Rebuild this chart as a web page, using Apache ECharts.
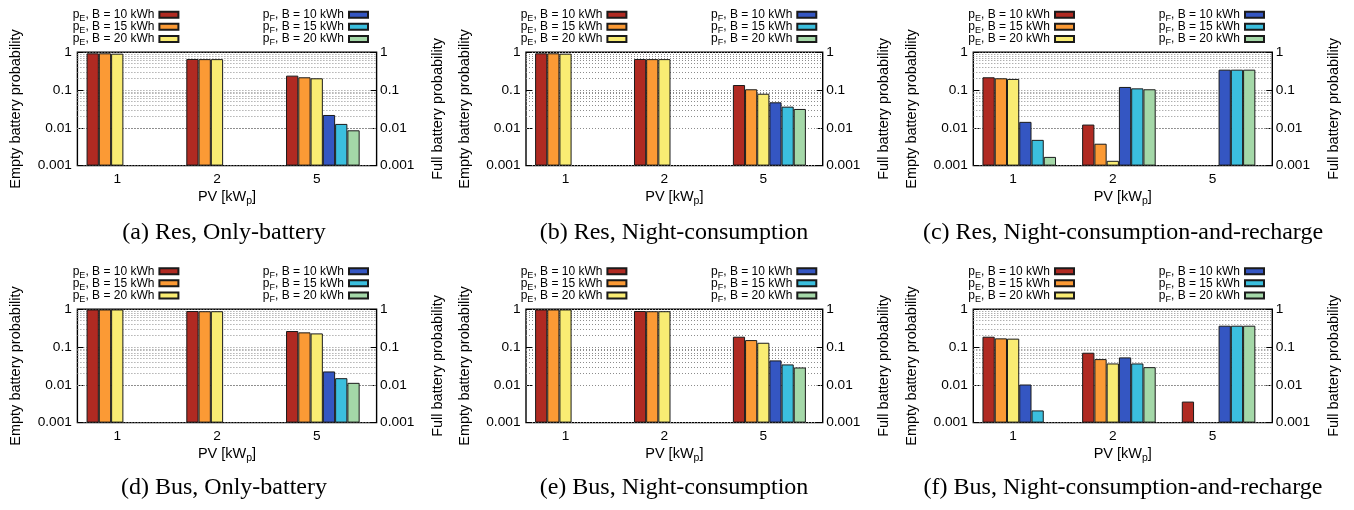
<!DOCTYPE html>
<html><head><meta charset="utf-8">
<script src="https://cdn.jsdelivr.net/npm/echarts@6/dist/echarts.min.js"></script>
<style>html,body{margin:0;padding:0;background:#fff}#c{width:1354px;height:510px}</style>
</head><body><div id="c"></div>
<script>
// ---------- data ----------
const categories = ['1', '2', '5'];
const yTickLabels = ['0.001', '0.01', '0.1', '1'];
const minorGridValues = [0.002, 0.003, 0.004, 0.005, 0.006, 0.007, 0.008, 0.009,
                         0.02, 0.03, 0.04, 0.05, 0.06, 0.07, 0.08, 0.09,
                         0.2, 0.3, 0.4, 0.5, 0.6, 0.7, 0.8, 0.9];
const seriesNames = ['p_E, B = 10 kWh', 'p_E, B = 15 kWh', 'p_E, B = 20 kWh',
                     'p_F, B = 10 kWh', 'p_F, B = 15 kWh', 'p_F, B = 20 kWh'];
const captions = ['(a) Res, Only-battery', '(b) Res, Night-consumption', '(c) Res, Night-consumption-and-recharge',
                  '(d) Bus, Only-battery', '(e) Bus, Night-consumption', '(f) Bus, Night-consumption-and-recharge'];
const xAxisName = 'PV [kW_p]';
const yLeftName = 'Empty battery probability';
const yRightName = 'Full battery probability';

// (a) Res, Only-battery
const a_pE10 = [0.94, 0.665, 0.241];
const a_pE15 = [0.94, 0.66, 0.218];
const a_pE20 = [0.92, 0.66, 0.205];
const a_pF10 = [null, null, 0.0219];
const a_pF15 = [null, null, 0.0127];
const a_pF20 = [null, null, 0.0086];
// (b) Res, Night-consumption
const b_pE10 = [0.94, 0.665, 0.136];
const b_pE15 = [0.94, 0.66, 0.105];
const b_pE20 = [0.92, 0.66, 0.080];
const b_pF10 = [null, null, 0.0474];
const b_pF15 = [null, null, 0.0364];
const b_pF20 = [null, null, 0.0316];
// (c) Res, Night-consumption-and-recharge
const c_pE10 = [0.218, 0.0122, null];
const c_pE15 = [0.205, 0.0038, null];
const c_pE20 = [0.197, 0.00134, null];
const c_pF10 = [0.0144, 0.121, 0.347];
const c_pF15 = [0.0048, 0.111, 0.347];
const c_pF20 = [0.0017, 0.105, 0.347];
// (d) Bus, Only-battery
const d_pE10 = [0.99, 0.90, 0.266];
const d_pE15 = [0.99, 0.89, 0.245];
const d_pE20 = [0.99, 0.89, 0.230];
const d_pF10 = [null, null, 0.0226];
const d_pF15 = [null, null, 0.0150];
const d_pF20 = [null, null, 0.0113];
// (e) Bus, Night-consumption
const e_pE10 = [0.99, 0.90, 0.188];
const e_pE15 = [0.99, 0.89, 0.153];
const e_pE20 = [0.99, 0.89, 0.130];
const e_pF10 = [null, null, 0.0443];
const e_pF15 = [null, null, 0.0347];
const e_pF20 = [null, null, 0.0288];
// (f) Bus, Night-consumption-and-recharge
const f_pE10 = [0.188, 0.0708, 0.0036];
const f_pE15 = [0.170, 0.048, null];
const f_pE20 = [0.167, 0.0368, null];
const f_pF10 = [0.0102, 0.0532, 0.368];
const f_pF15 = [0.0021, 0.0368, 0.368];
const f_pF20 = [null, 0.0294, 0.368];

const panelData = [
  [a_pE10, a_pE15, a_pE20, a_pF10, a_pF15, a_pF20],
  [b_pE10, b_pE15, b_pE20, b_pF10, b_pF15, b_pF20],
  [c_pE10, c_pE15, c_pE20, c_pF10, c_pF15, c_pF20],
  [d_pE10, d_pE15, d_pE20, d_pF10, d_pF15, d_pF20],
  [e_pE10, e_pE15, e_pE20, e_pF10, e_pF15, e_pF20],
  [f_pE10, f_pE15, f_pE20, f_pF10, f_pF15, f_pF20]
];

// ---------- style / layout ----------
const colors = ['#b02a22', '#fb9a35', '#f9ec73', '#3456c2', '#3bbfde', '#a4d8a8'];
const SANS = 'Liberation Sans, Arial, Helvetica, sans-serif';
const SERIF = 'Liberation Serif, Times New Roman, serif';
const colLeft = [77.4, 526, 973.3];
const colWidth = [299.2, 296.7, 299];
const rowTop = [52.3, 309.3];
const plotH = 113.3;
const legendLeft = [72.7, 520.7, 968.3];
const legendRightEdge = [369, 817.3, 1265];
const legendTop = [6.2, 262.7];
const capCenter = [224, 674, 1123];
const capTop = [220.5, 475.5];
const W = 1354;

function subRich(str) {
  return str.replace(/^(.*?)_(\w)(.*)$/, '{n|$1}{s|$2}{n|$3}');
}
const legendRich = {
  n: { fontFamily: SANS, fontSize: 12, lineHeight: 11.8, color: '#000' },
  s: { fontFamily: SANS, fontSize: 9, lineHeight: 11.8, color: '#000', padding: [8, 0, 0, 0] }
};

const grid = [], xAxis = [], yAxis = [], series = [], legend = [], title = [];
for (let i = 0; i < 6; i++) {
  const col = i % 3, row = Math.floor(i / 3);
  grid.push({ left: colLeft[col], top: rowTop[row], width: colWidth[col], height: plotH,
              show: true, borderColor: '#000', borderWidth: 1.4, backgroundColor: 'transparent', containLabel: false });
  xAxis.push({
    type: 'category', gridIndex: i, data: categories,
    axisLine: { show: false }, axisTick: { show: false },
    axisLabel: { fontFamily: SANS, fontSize: 13.7, color: '#000', margin: 7, padding: [0, 20, 0, 0] },
    splitLine: { show: false },
    name: subRich(xAxisName), nameLocation: 'middle', nameGap: 23,
    nameTextStyle: { rich: {
      n: { fontFamily: SANS, fontSize: 14.5, color: '#000', lineHeight: 16 },
      s: { fontFamily: SANS, fontSize: 10.5, color: '#000', lineHeight: 16, padding: [8, 0, 0, 0] } } }
  });
  const yCommon = {
    type: 'log', logBase: 10, min: 0.001, max: 1, gridIndex: i, startValue: 0.001,
    axisLine: { show: false },
    axisTick: { show: true, inside: true, length: 6, lineStyle: { color: '#000', width: 1 } },
    axisLabel: { fontFamily: SANS, fontSize: 13.7, color: '#000',
                 formatter: v => yTickLabels[Math.round(Math.log10(v)) + 3] },
    nameLocation: 'middle',
    nameTextStyle: { fontFamily: SANS, fontSize: 14.5, color: '#000' }
  };
  yAxis.push(Object.assign({}, yCommon, {
    position: 'left', name: yLeftName, nameGap: 54,
    axisLabel: Object.assign({}, yCommon.axisLabel, { margin: 5.5 }),
    splitLine: { show: true, lineStyle: { color: '#8c8c8c', width: 1, type: [1, 2] } }
  }));
  yAxis.push(Object.assign({}, yCommon, {
    position: 'right', name: yRightName, nameGap: 54,
    axisLabel: Object.assign({}, yCommon.axisLabel, { margin: 3.5 }),
    splitLine: { show: false }
  }));
  for (let j = 0; j < 6; j++) {
    series.push({
      type: 'bar', name: seriesNames[j], xAxisIndex: i, yAxisIndex: 2 * i,
      data: panelData[i][j], barWidth: '12.3%', barGap: 0, z: 2,
      itemStyle: { color: colors[j], borderColor: '#1a1a1a', borderWidth: 1 },
      emphasis: { disabled: true }
    });
  }
  // invisible spacer column + minor log grid lines
  series.push({
    type: 'bar', name: '_spacer', xAxisIndex: i, yAxisIndex: 2 * i,
    data: [null, null, null], barWidth: '7.8%', barGap: 0,
    markLine: {
      z: 1, silent: true, symbol: ['none', 'none'], label: { show: false }, animation: false,
      lineStyle: { color: '#8c8c8c', width: 1, type: [1, 2] },
      emphasis: { disabled: true },
      data: minorGridValues.map(v => ({ yAxis: v }))
    }
  });
  const lcommon = {
    orient: 'vertical', align: 'right', top: legendTop[row], padding: 0, itemGap: -4.9,
    itemWidth: 19, itemHeight: 6, icon: 'rect', selectedMode: false,
    formatter: name => subRich(name),
    textStyle: { fontFamily: SANS, fontSize: 12, lineHeight: 11.8, rich: legendRich }
  };
  legend.push(Object.assign({}, lcommon, { left: legendLeft[col], data: seriesNames.slice(0, 3) }));
  legend.push(Object.assign({}, lcommon, { right: W - legendRightEdge[col], data: seriesNames.slice(3, 6) }));
  title.push({
    text: captions[i], left: capCenter[col], top: capTop[row], textAlign: 'center', padding: 0,
    textStyle: { fontFamily: SERIF, fontSize: 24, fontWeight: 'normal', color: '#000' }
  });
}

const chart = echarts.init(document.getElementById('c'), null, { renderer: 'canvas' });
chart.setOption({ animation: false, backgroundColor: '#fff', grid, xAxis, yAxis, series, legend, title });
</script>
</body></html>
